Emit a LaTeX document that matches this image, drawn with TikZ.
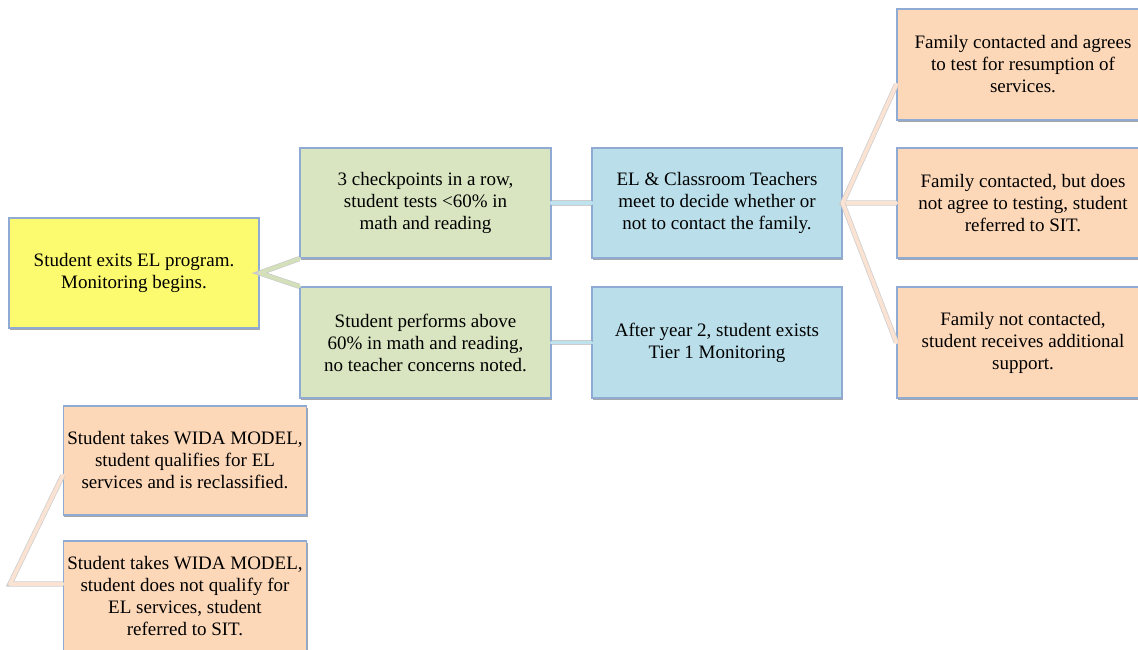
\documentclass[tikz,border=0pt]{standalone}
\usepackage{fontspec}
\setmainfont{Liberation Serif}
\usetikzlibrary{shadows,calc}
\definecolor{boxline}{HTML}{8FAAD3}
\definecolor{yel}{HTML}{FCFA6E}
\definecolor{grn}{HTML}{D9E5C0}
\definecolor{blu}{HTML}{BADFEA}
\definecolor{org}{HTML}{FCD7B8}
\definecolor{cgrn}{HTML}{D3E0BA}
\definecolor{cblu}{HTML}{BFE3EE}
\definecolor{corg}{HTML}{FBE3D3}
\tikzset{
  box/.style={draw=boxline, line width=1.3pt, minimum width=250pt, minimum height=110pt,
    align=center, inner sep=4pt, font=\fontsize{19}{22}\selectfont,
    drop shadow={shadow xshift=1pt, shadow yshift=-1.5pt, opacity=0.35, fill=black}},
  conn/.style={line width=3.8pt, line cap=round, line join=round,
    preaction={draw=black!20, line width=5.2pt}},
}
\begin{document}
\begin{tikzpicture}[x=1pt,y=-1pt]
\useasboundingbox (0,0) rectangle (1138,649);
% nodes
\node[box, fill=yel] (start) at (134,273) {Student exits EL program.\\Monitoring begins.};
\node[box, fill=grn, minimum width=251pt] (g1) at (425.5,203) {3 checkpoints in a row,\\student tests <60\% in\\math and reading};
\node[box, fill=grn, minimum width=251pt, minimum height=111pt] (g2) at (425.5,342.5) {Student performs above\\60\% in math and reading,\\no teacher concerns noted.};
\node[box, fill=blu] (b1) at (717,203) {EL \& Classroom Teachers\\meet to decide whether or\\not to contact the family.};
\node[box, fill=blu, minimum height=111pt] (b2) at (717,342.5) {After year 2, student exists\\Tier 1 Monitoring};
\node[box, fill=org, minimum width=252pt, minimum height=111pt] (o1) at (1023,64.5) {Family contacted and agrees\\to test for resumption of\\services.};
\node[box, fill=org, minimum width=252pt] (o2) at (1023,203) {Family contacted, but does\\not agree to testing, student\\referred to SIT.};
\node[box, fill=org, minimum width=252pt, minimum height=111pt] (o3) at (1023,342.5) {Family not contacted,\\student receives additional\\support.};
\node[box, fill=org, minimum width=242pt, minimum height=109pt] (l1) at (185,460.5) {Student takes WIDA MODEL,\\student qualifies for EL\\services and is reclassified.};
\node[box, fill=org, minimum width=242pt, minimum height=110pt] (l2) at (185,596) {Student takes WIDA MODEL,\\student does not qualify for\\EL services, student\\referred to SIT.};
\coordinate (lroot) at (10,584);
% connectors
\draw[conn, draw=cgrn] (g1.south west) -- (start.east) -- (g2.north west);
\draw[conn, draw=cblu] (g1.east) -- (b1.west);
\draw[conn, draw=cblu] (g2.east) -- (b2.west);
\draw[conn, draw=corg] ($(o1.west)+(0,20)$) -- (b1.east) -- (o2.west);
\draw[conn, draw=corg] (b1.east) -- (o3.west);
\draw[conn, draw=corg] ($(l1.west)+(0,15)$) -- (lroot) -- (l2.west |- lroot);
\end{tikzpicture}
\end{document}
